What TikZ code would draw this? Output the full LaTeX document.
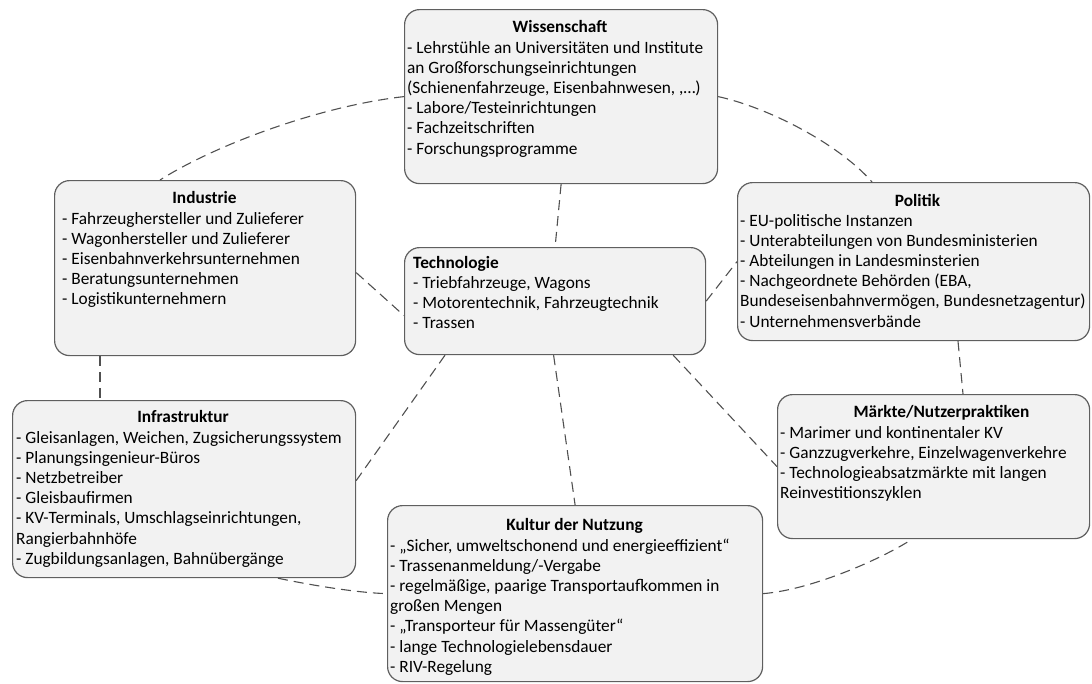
\documentclass[tikz,border=0pt]{standalone}
\usepackage{fontspec}
\setmainfont{Carlito}
\definecolor{boxfill}{HTML}{F2F2F2}
\definecolor{boxline}{HTML}{5F5F5F}
\definecolor{dashline}{HTML}{505050}
\begin{document}
\begin{tikzpicture}[x=1pt,y=-1pt,
  box/.style={draw=boxline, fill=boxfill, line width=1.2pt, rounded corners=15pt,
    anchor=north west, inner sep=0pt},
  txt/.style={inner sep=0pt, font=\fontsize{17.3}{20.2}\selectfont},
  ttl/.style={txt, anchor=base, font=\fontsize{17.3}{20.2}\selectfont\bfseries},
  items/.style={txt, anchor=base west},
  link/.style={draw=dashline, line width=1.1pt, dash pattern=on 10pt off 6pt}]
\useasboundingbox (0,0) rectangle (1092,683);

% boxes
\node[box, minimum width=313pt, minimum height=174pt] (wiss) at (404,9) {};
\node[box, minimum width=301pt, minimum height=175pt] (ind) at (54,180) {};
\node[box, minimum width=352pt, minimum height=158pt] (pol) at (737,182) {};
\node[box, minimum width=343pt, minimum height=177pt] (infra) at (12,400) {};
\node[box, minimum width=375pt, minimum height=176pt] (kul) at (387,505) {};
\node[box, minimum width=312pt, minimum height=144pt] (mkt) at (777,394) {};
\node[box, minimum width=301pt, minimum height=107pt] (tech) at (404,247) {};

% outer ring
\draw[link] (wiss.west) .. controls (320,106) and (215,145) .. ([xshift=106pt]ind.north west);
\draw[link] (wiss.east) .. controls (770,108) and (840,145) .. ([xshift=135pt]pol.north west);
\draw[link] ([xshift=46pt]ind.south west) -- ([xshift=88pt]infra.north west);
\draw[link] ([xshift=221pt]pol.south west) -- ([xshift=186pt]mkt.north west);
\draw[link] ([xshift=266pt]infra.south west) .. controls (315,586) and (360,593) .. (kul.west);
\draw[link] (kul.east) .. controls (810,590) and (880,560) .. ([xshift=135pt]mkt.south west);
% spokes
\draw[link] (wiss.south) -- (tech.north);
\draw[link] ([yshift=-4.5pt]ind.east) -- ([yshift=-14.5pt]tech.west);
\draw[link] ([xshift=41pt]tech.south west) -- ([yshift=8.5pt]infra.east);
\draw[link] (tech.east) -- (pol.west);
\draw[link] ([xshift=-33pt]tech.south east) -- (mkt.west);
\draw[link] ([xshift=-1.5pt]tech.south) -- (kul.north);

% texts
\node[ttl] (wiss-t) at (560,32) {Wissenschaft};
\node[items] (wiss-i) at (407,53) {\begin{tabular}[t]{@{}l@{}}
- Lehrstühle an Universitäten und Institute\\
an Großforschungseinrichtungen\\
(Schienenfahrzeuge, Eisenbahnwesen, ,…)\\
- Labore/Testeinrichtungen\\
- Fachzeitschriften\\
- Forschungsprogramme\end{tabular}};

\node[ttl] (ind-t) at (204.5,203) {Industrie};
\node[items] (ind-i) at (62,224) {\begin{tabular}[t]{@{}l@{}}
- Fahrzeughersteller und Zulieferer\\
- Wagonhersteller und Zulieferer\\
- Eisenbahnverkehrsunternehmen\\
- Beratungsunternehmen\\
- Logistikunternehmern\end{tabular}};

\node[ttl] (pol-t) at (917.5,206) {Politik};
\node[items] (pol-i) at (740,226) {\begin{tabular}[t]{@{}l@{}}
- EU-politische Instanzen\\
- Unterabteilungen von Bundesministerien\\
- Abteilungen in Landesminsterien\\
- Nachgeordnete Behörden (EBA,\\
Bundeseisenbahnvermögen, Bundesnetzagentur)\\
- Unternehmensverbände\end{tabular}};

\node[ttl] (infra-t) at (183,422) {Infrastruktur};
\node[items] (infra-i) at (16,443) {\begin{tabular}[t]{@{}l@{}}
- Gleisanlagen, Weichen, Zugsicherungssystem\\
- Planungsingenieur-Büros\\
- Netzbetreiber\\
- Gleisbaufirmen\\
- KV-Terminals, Umschlagseinrichtungen,\\
Rangierbahnhöfe\\
- Zugbildungsanlagen, Bahnübergänge\end{tabular}};

\node[ttl] (kul-t) at (574.5,530) {Kultur der Nutzung};
\node[items] (kul-i) at (390,551) {\begin{tabular}[t]{@{}l@{}}
- „Sicher, umweltschonend und energieeffizient“\\
- Trassenanmeldung/-Vergabe\\
- regelmäßige, paarige Transportaufkommen in\\
großen Mengen\\
- „Transporteur für Massengüter“\\
- lange Technologielebensdauer\\
- RIV-Regelung\end{tabular}};

\node[ttl] (mkt-t) at (941.5,417) {Märkte/Nutzerpraktiken};
\node[items] (mkt-i) at (780,438) {\begin{tabular}[t]{@{}l@{}}
- Marimer und kontinentaler KV\\
- Ganzzugverkehre, Einzelwagenverkehre\\
- Technologieabsatzmärkte mit langen\\
Reinvestitionszyklen\end{tabular}};

\node[items] (tech-i) at (413,268) {\begin{tabular}[t]{@{}l@{}}
\textbf{Technologie}\\
- Triebfahrzeuge, Wagons\\
- Motorentechnik, Fahrzeugtechnik\\
- Trassen\end{tabular}};
\end{tikzpicture}
\end{document}
